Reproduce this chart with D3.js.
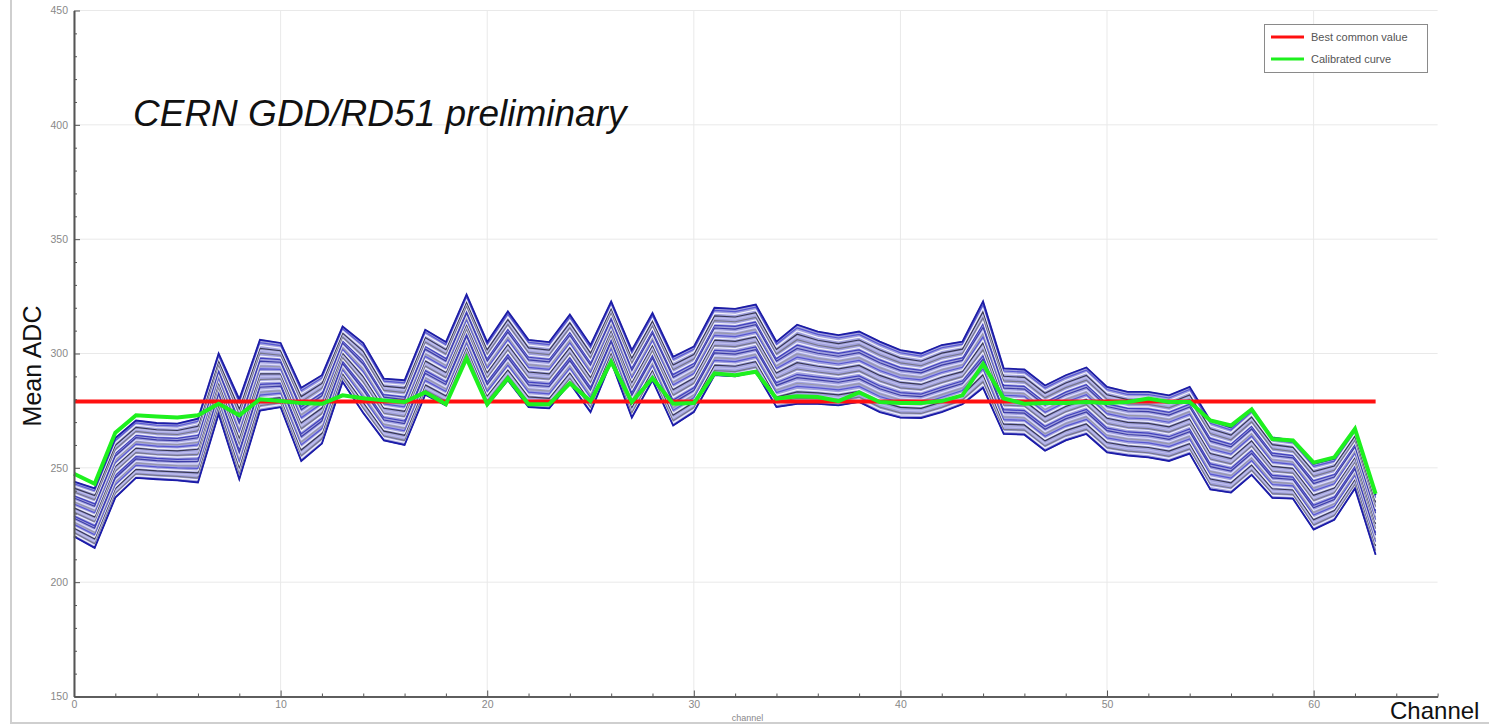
<!DOCTYPE html>
<html>
<head>
<meta charset="utf-8">
<script src="https://cdn.jsdelivr.net/npm/d3@7"></script>
<style>
  body { margin: 0; background: #fff; }
  .chart svg { display: block; font-family: "Liberation Sans", Arial, sans-serif; }
  .axis path, .axis line { stroke: #555; }
  .axis text { fill: #888; font-size: 10.5px; }
</style>
</head>
<body>
<div class="chart"></div>
<script>
// Channel numbers on the x axis
var channels = [0, 1, 2, 3, 4, 5, 6, 7, 8, 9, 10, 11, 12, 13, 14, 15,
  16, 17, 18, 19, 20, 21, 22, 23, 24, 25, 26, 27, 28, 29, 30, 31,
  32, 33, 34, 35, 36, 37, 38, 39, 40, 41, 42, 43, 44, 45, 46, 47,
  48, 49, 50, 51, 52, 53, 54, 55, 56, 57, 58, 59, 60, 61, 62, 63];

// Upper edge of the bundle of uncalibrated scans (mean ADC)
var bandTop = [244, 241, 263, 270.7, 269.6, 269.3, 271.5, 300, 280, 306, 304.6, 285, 290.5, 311.8, 304.6, 289,
  288.3, 310.4, 305, 325.8, 305, 318.4, 306, 305, 317, 303.7, 322.8, 301.5, 317.7, 298.6, 303, 320,
  319.5, 321.4, 305.2, 312.6, 309.6, 308, 309.6, 305.2, 301.5, 300, 303.7, 305.2, 322.8, 293.5, 293, 286,
  290.5, 293.9, 285.4, 283.2, 283.2, 281.7, 285.4, 270.7, 267.7, 275.6, 263.3, 262, 251.8, 254, 267, 238];

// Lower edge of the same bundle
var bandBottom = [220, 215, 237, 245.6, 245, 244.5, 243.6, 273.5, 245, 275, 276.5, 253, 260.6, 287.6, 274, 262,
  260, 282, 277.3, 298.6, 277.3, 288.3, 276.6, 276, 287, 274.4, 296.4, 272, 288.3, 268.5, 274.4, 290.5,
  290, 292, 276.6, 278, 278, 277.3, 278.8, 274.4, 272, 271.8, 274.4, 277.8, 285, 264.8, 264.5, 257.5,
  262, 264.8, 256.8, 255.4, 254.6, 253, 256.2, 240.6, 239.2, 246.9, 236.9, 236.5, 223, 227.3, 241, 212];

// Calibrated curve (green)
var calibrated = [247.4, 243, 265.4, 273, 272.5, 272, 273, 278, 273, 280, 279.2, 278.3, 278, 281.7, 280.4, 279.5,
  278.8, 283, 277.8, 298, 277.8, 289.2, 277.8, 277.8, 287, 279.2, 296.4, 278.8, 289.2, 278, 278.3, 291.3,
  290.5, 292, 280.3, 281.3, 281, 279.2, 283, 278.8, 278.3, 278.3, 279.2, 281.7, 295.4, 280.3, 278, 278.3,
  278.3, 278.8, 278.3, 278.8, 280.3, 278.8, 278.8, 270.7, 268.5, 275.6, 262.6, 262, 252.3, 254.6, 267, 238.6];

// Best common value (red)
var bestCommonValue = 279;

// Relative position of each scan inside the bundle, bottom (0) to top (1)
var scanLevels = [0, 0.04, 0.07, 0.11, 0.15, 0.18, 0.22, 0.26, 0.29, 0.33, 0.37, 0.41, 0.44, 0.48,
  0.52, 0.55, 0.59, 0.63, 0.66, 0.70, 0.74, 0.77, 0.81, 0.85, 0.88, 0.92, 0.96, 1];
var scanColors = ["#3030b8", "#ffffff", "#6e6e7a", "#c4c4f0", "#26263a", "#ffffff",
  "#4a4ad0", "#9898a0", "#e8e8ff", "#2c2c9c"];

// Tick values
var xMajorTicks = [0, 10, 20, 30, 40, 50, 60];
var xMinorTicks = [2, 4, 6, 8, 12, 14, 16, 18, 22, 24, 26, 28, 32, 34, 36, 38, 42, 44, 46, 48, 52, 54, 56, 58, 62, 64, 66];
var yMajorTicks = [150, 200, 250, 300, 350, 400, 450];
var yMinorTicks = [160, 170, 180, 190, 210, 220, 230, 240, 260, 270, 280, 290, 310, 320, 330, 340,
  360, 370, 380, 390, 410, 420, 430, 440];

var legendItems = ["Best common value", "Calibrated curve"];

// First set up the chart
var svgWidth = 1489;
var svgHeight = 724;

var margin = {top: 10.5, right: 51.4, bottom: 27.5, left: 74};

var width = svgWidth - margin.left - margin.right;
var height = svgHeight - margin.top - margin.bottom;

var root = d3.select(".chart")
  .append("svg")
  .attr("width", svgWidth)
  .attr("height", svgHeight);

// Screenshot frame on the left and bottom
root.append("line")
  .attr("x1", 11).attr("x2", 11).attr("y1", 0).attr("y2", svgHeight)
  .attr("stroke", "#cfcfcf").attr("stroke-width", 2);
root.append("line")
  .attr("x1", 11).attr("x2", svgWidth).attr("y1", 723).attr("y2", 723)
  .attr("stroke", "#cfcfcf").attr("stroke-width", 2);

var chart = root.append("g")
  .attr("transform", "translate(" + margin.left + "," + margin.top + ")");

// Scales
var xLinearScale = d3.scaleLinear().domain([0, 66]).range([0, width]);
var yLinearScale = d3.scaleLinear().domain([150, 450]).range([height, 0]);

// Grid lines
chart.append("g")
  .selectAll("line")
  .data(xMajorTicks)
  .enter()
  .append("line")
  .attr("x1", function(d) { return xLinearScale(d); })
  .attr("x2", function(d) { return xLinearScale(d); })
  .attr("y1", 0)
  .attr("y2", height)
  .attr("stroke", "#e9e9e9");

chart.append("g")
  .selectAll("line")
  .data(yMajorTicks)
  .enter()
  .append("line")
  .attr("x1", 0)
  .attr("x2", width)
  .attr("y1", function(d) { return yLinearScale(d); })
  .attr("y2", function(d) { return yLinearScale(d); })
  .attr("stroke", "#e9e9e9");

// Bundle of scans
var bandArea = d3.area()
  .x(function(d, i) { return xLinearScale(channels[i]); })
  .y0(function(d, i) { return yLinearScale(bandBottom[i]); })
  .y1(function(d, i) { return yLinearScale(bandTop[i]); });

chart.append("path")
  .datum(channels)
  .attr("d", bandArea)
  .attr("fill", "#a2a2de");

scanLevels.forEach(function(level, k) {
  var scanLine = d3.line()
    .x(function(d, i) { return xLinearScale(channels[i]); })
    .y(function(d, i) { return yLinearScale(bandBottom[i] + level * (bandTop[i] - bandBottom[i])); });

  chart.append("path")
    .datum(channels)
    .attr("d", scanLine)
    .attr("fill", "none")
    .attr("stroke", scanColors[k % scanColors.length])
    .attr("stroke-width", 1.2)
    .attr("stroke-opacity", 0.85);
});

// Edges of the bundle in dark blue
[bandTop, bandBottom].forEach(function(edge) {
  chart.append("path")
    .datum(edge)
    .attr("d", d3.line()
      .x(function(d, i) { return xLinearScale(channels[i]); })
      .y(function(d) { return yLinearScale(d); }))
    .attr("fill", "none")
    .attr("stroke", "#1c1ca8")
    .attr("stroke-width", 1.8);
});

// Best common value
chart.append("path")
  .datum(channels)
  .attr("d", d3.line()
    .x(function(d) { return xLinearScale(d); })
    .y(function() { return yLinearScale(bestCommonValue); }))
  .attr("fill", "none")
  .attr("stroke", "#ff1010")
  .attr("stroke-width", 4);

// Calibrated curve
chart.append("path")
  .datum(calibrated)
  .attr("d", d3.line()
    .x(function(d, i) { return xLinearScale(channels[i]); })
    .y(function(d) { return yLinearScale(d); }))
  .attr("fill", "none")
  .attr("stroke", "#1ef01e")
  .attr("stroke-width", 4)
  .attr("stroke-linejoin", "miter");

// Axes, ticks point into the plot
var bottomAxis = d3.axisBottom(xLinearScale).tickValues(xMajorTicks).tickSize(-6).tickSizeOuter(0).tickPadding(4);
var bottomMinor = d3.axisBottom(xLinearScale).tickValues(xMinorTicks).tickSize(-3).tickSizeOuter(0).tickFormat("");
var leftAxis = d3.axisLeft(yLinearScale).tickValues(yMajorTicks).tickSize(-6).tickSizeOuter(0).tickPadding(6);
var leftMinor = d3.axisLeft(yLinearScale).tickValues(yMinorTicks).tickSize(-3).tickSizeOuter(0).tickFormat("");

chart.append("g").attr("class", "axis").attr("transform", "translate(0," + height + ")").call(bottomMinor);
chart.append("g").attr("class", "axis").attr("transform", "translate(0," + height + ")").call(bottomAxis);
chart.append("g").attr("class", "axis").call(leftMinor);
chart.append("g").attr("class", "axis").call(leftAxis);
chart.selectAll(".axis .domain").attr("stroke-width", 1.6);

// Small axis title from the plotting tool
chart.append("text")
  .attr("x", xLinearScale(32.6))
  .attr("y", height + 24)
  .attr("text-anchor", "middle")
  .attr("fill", "#888")
  .style("font-size", "9px")
  .text("channel");

// Large annotations
root.append("text")
  .attr("x", 133)
  .attr("y", 126)
  .style("font-size", "37px")
  .style("font-style", "italic")
  .attr("fill", "#111")
  .text("CERN GDD/RD51 preliminary");

root.append("text")
  .attr("transform", "translate(41,366) rotate(-90)")
  .attr("text-anchor", "middle")
  .style("font-size", "25px")
  .attr("fill", "#111")
  .text("Mean ADC");

root.append("text")
  .attr("x", 1390)
  .attr("y", 719)
  .style("font-size", "24px")
  .attr("fill", "#111")
  .text("Channel");

// Legend
var legend = root.append("g").attr("transform", "translate(1264,24)");
legend.append("rect")
  .attr("x", 0.5).attr("y", 0.5).attr("width", 163).attr("height", 48)
  .attr("fill", "#fff").attr("stroke", "#8a8a8a");

var legendColors = ["#ff1010", "#1ef01e"];
legend.selectAll(".legend-item")
  .data(legendItems)
  .enter()
  .append("g")
  .attr("class", "legend-item")
  .attr("transform", function(d, i) { return "translate(0," + (13 + i * 22) + ")"; })
  .each(function(d, i) {
    var g = d3.select(this);
    g.append("line")
      .attr("x1", 7).attr("x2", 40).attr("y1", 0).attr("y2", 0)
      .attr("stroke", legendColors[i]).attr("stroke-width", 3);
    g.append("text")
      .attr("x", 47).attr("y", 4)
      .attr("fill", "#555")
      .style("font-size", "11px")
      .text(d);
  });
</script>
</body>
</html>
